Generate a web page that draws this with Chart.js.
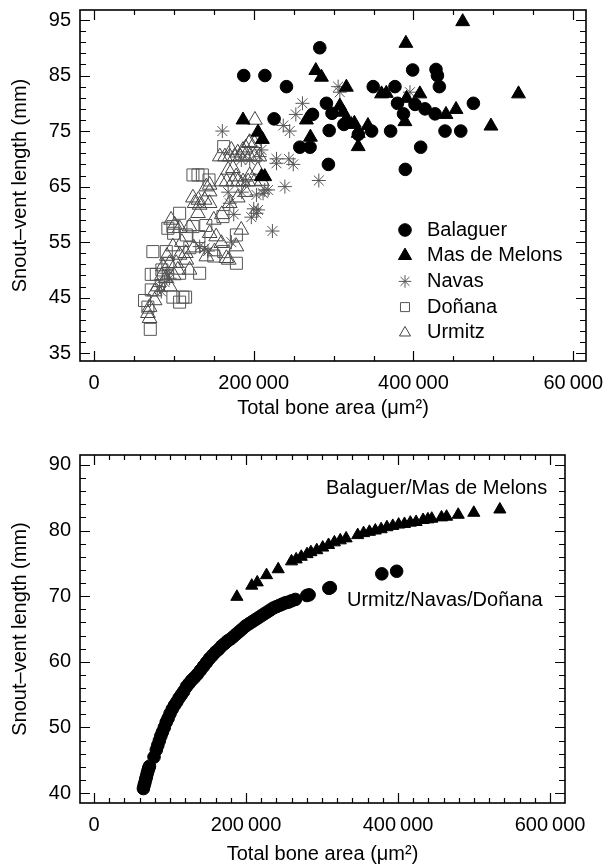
<!DOCTYPE html>
<html>
<head>
<meta charset="utf-8">
<script src="https://cdn.jsdelivr.net/npm/chart.js@4.4.0/dist/chart.umd.min.js"></script>
<style>
  body { margin: 0; background: #fff; }
  .panel { position: relative; width: 608px; }
  canvas { display: block; }
</style>
</head>
<body>
<div class="panel" style="height:420px"><canvas id="topChart" width="608" height="420"></canvas></div>
<div class="panel" style="height:446px"><canvas id="bottomChart" width="608" height="446"></canvas></div>
<script>
// ---- data: [total bone area (um2), snout-vent length (mm)] ----
const balaguer = [
  [187500,85],[214000,85],[241000,83],[225500,77.2],[282700,90],[291000,80],[273600,78],[298000,78.2],
  [294500,75.1],[257700,72.1],[270500,72.1],[293500,69],[312900,76.2],[331000,74.4],[347600,75],[349600,83],
  [376800,83],[371400,75],[399000,86],[428200,86.1],[430000,85],[432400,83],[380000,80],[387500,78.1],
  [401900,79.8],[414400,79],[427000,78.1],[475000,80],[439500,75],[459200,75],[409000,72.1],[389800,68.1]
];
const masDeMelons = [
  [461600,94.7],[390500,90.8],[277700,85.9],[284800,84.7],[316000,82.9],[531500,81.7],[360000,81.7],[366000,81.8],
  [408000,81.7],[391400,80.9],[440700,78],[453300,78.9],[497000,75.9],[389300,76.7],[307800,79.5],[312000,78.4],
  [316000,77.2],[322000,76.2],[326000,76.4],[330800,74.6],[330800,72.2],[343000,76],[186600,77],[205400,74.8],
  [210900,73.5],[266000,77],[271000,73.9],[209600,66.8],[213800,66.8]
];
const navas = [
  [160700,75],[261000,80],[252700,78],[237000,76],[245000,75],[305700,83],[307800,82],[395600,82],
  [228500,70],[228500,69.2],[244000,70],[249500,69],[239000,65],[281500,66.1],[209600,71.6],[207500,70.4],
  [203400,60.2],[205400,60.8],[223400,57],[172000,55],[218000,64.4],[211700,63.8],[203400,63.5],[213800,64.4],
  [170000,62],[175000,60],[168000,64],[132300,54.2],[138600,53.9],[142700,53.4],[90500,49.4],[94700,48.5],
  [88400,47.8],[82100,47],[84300,46.1],[184500,69.8],[195000,69.8],[185000,64],[190000,66],[200000,61],[197000,59.5]
];
const donana = [
  [162400,72.2],[123900,67.1],[130200,67.1],[135700,67.1],[144000,66.2],[107200,60.2],[92500,57.5],[99700,56.6],
  [131400,56],[161500,59.6],[178300,56.3],[73700,53.3],[90500,53.3],[162400,53.3],[178300,51.2],[71700,49.2],
  [78000,49.2],[107200,49.4],[132300,49.4],[98800,45.1],[111300,45.1],[114700,45.1],[107200,44.2],[63300,44.5],
  [67500,43.3],[70500,39.3],[71700,46.4],[98800,57.8],[123900,57.8],[115600,56.3],[92500,51.2],[120000,54],
  [150000,52.5],[85000,50],[140000,58]
];
const urmitz = [
  [201500,77],[195000,73],[201000,72.8],[194000,72.8],[190000,72],[157600,70.4],[164000,70.4],[170000,70.4],
  [176000,70.4],[183000,70.4],[189000,70.4],[195000,70.4],[201000,70.4],[207000,70.4],[172000,71.6],[180000,71.1],
  [186600,71.6],[168000,68],[174000,68.3],[178000,66.8],[159500,65.9],[166000,65.9],[174000,65.9],[180000,65.9],
  [186600,65.9],[193000,65.9],[201000,65.9],[144800,65.3],[144800,64.1],[140700,65],[123900,63],[126000,62],
  [132300,61.7],[138600,62.6],[144800,62],[130200,60.2],[101000,58.1],[107200,57.5],[119700,57.8],[144800,56.6],
  [153000,56],[159500,54.8],[151000,53.3],[140700,52.4],[165800,52.1],[178300,54.2],[98800,54.2],[91300,52.5],
  [94700,51.2],[86300,50.6],[107200,52.7],[103000,51.2],[115600,51.8],[119700,50],[75900,46.1],[80000,47],
  [69600,43.3],[67500,42.2],[69600,41.3],[75900,44.5],[168700,51.8],[184400,57.2],[96500,59],[130700,62.6],
  [110000,55],[125000,54],[90000,48.5],[100000,49],[85000,49],[160000,60],[170000,62],[180000,63],
  [190000,64],[195000,67],[205000,68],[150000,59],[115000,53],[105000,50],[95000,47],[210000,66]
];

// predicted values (lower panel)
const predBalaguerMas = [
  [188000,69.9],[207600,71.6],[214800,72.1],[227000,73.2],[242400,74.1],[259900,75.3],[266000,75.6],[272700,76],
  [280300,76.4],[285400,76.7],[293100,77],[300900,77.4],[308600,77.8],[316300,78.2],[324000,78.5],[331700,78.8],
  [347000,79.3],[354700,79.6],[362400,79.8],[370100,80],[377800,80.2],[385400,80.5],[393100,80.7],[400800,80.9],
  [408500,81],[416200,81.2],[423800,81.3],[433000,81.6],[439300,81.7],[444400,81.8],[457200,82],[463900,82.1],
  [479200,82.4],[499700,82.7],[534000,83.2]
];
const predUrmitzNavasDonana = [
  [65000,40.7],[66000,41.2],[67000,41.6],[68000,42.1],[69000,42.5],[70000,43],[71000,43.4],[72000,43.8],
  [73000,44.1],[79000,45.5],[82000,46.6],[84000,47.3],[86000,48],[88000,48.7],[90000,49.3],[92500,50],
  [95000,50.8],[97500,51.4],[100000,52.1],[103000,52.8],[106000,53.4],[109000,53.9],[112000,54.5],[115000,55],
  [118000,55.5],[121500,56.2],[125000,56.7],[128500,57.2],[132000,57.6],[136000,58.1],[140000,58.7],[144000,59.3],
  [148000,59.9],[152000,60.5],[156000,61],[160000,61.5],[164000,61.9],[168000,62.4],[172000,62.8],[176000,63.2],
  [180000,63.5],[184000,63.9],[188000,64.3],[192000,64.7],[196000,65.1],[200000,65.5],[204000,65.8],[208000,66.1],
  [212000,66.4],[216000,66.7],[220000,67],[224000,67.3],[228000,67.6],[232000,67.9],[236000,68.2],[240000,68.4],
  [244000,68.6],[248000,68.8],[252000,69],[256000,69.1],[260000,69.3],[265000,69.5],[280000,70.1],[283000,70.2],
  [309000,71.2],[311000,71.3],[378700,73.4],[398200,73.8]
];

// ---- axes ----
const topXTicks = [0, 200000, 400000, 600000];
const topXLabels = ['0', '200\u2009000', '400\u2009000', '60\u2009000'];
const topYTicks = [35, 45, 55, 65, 75, 85, 95];
const bottomXTicks = [0, 200000, 400000, 600000];
const bottomXLabels = ['0', '200\u2009000', '400\u2009000', '600\u2009000'];
const bottomYTicks = [40, 50, 60, 70, 80, 90];

const FONT = "'Liberation Sans', Arial, sans-serif";
const FS = 20;

const toXY = arr => arr.map(([x, y]) => ({ x, y }));

// box frame with inward ticks, drawn from the scales
const frameTicks = {
  id: 'frameTicks',
  afterDatasetsDraw(chart, args, o) {
    const { ctx, chartArea: a } = chart;
    const x = chart.scales.x, y = chart.scales.y;
    ctx.save();
    ctx.strokeStyle = '#000';
    ctx.lineWidth = 1.2;
    ctx.beginPath();
    for (let v = o.xFrom; v <= o.xTo + 1; v += o.xStep) {
      const px = Math.round(x.getPixelForValue(v)) + 0.5;
      const len = o.xMajor.includes(v) ? 10 : 5;
      ctx.moveTo(px, a.bottom); ctx.lineTo(px, a.bottom - len);
      ctx.moveTo(px, a.top); ctx.lineTo(px, a.top + len);
    }
    for (let v = o.yFrom; v <= o.yTo + 0.01; v += o.yStep) {
      const py = Math.round(y.getPixelForValue(v)) + 0.5;
      const len = o.yMajor.includes(v) ? 10 : 6;
      ctx.moveTo(a.left, py); ctx.lineTo(a.left + len, py);
      ctx.moveTo(a.right, py); ctx.lineTo(a.right - len, py);
    }
    ctx.stroke();
    ctx.lineWidth = 1.6;
    ctx.strokeRect(a.left, a.top, a.right - a.left, a.bottom - a.top);
    ctx.restore();
  }
};

// in-plot legend / labels
const notes = {
  id: 'notes',
  afterDraw(chart, args, o) {
    const { ctx } = chart;
    ctx.save();
    ctx.font = FS + 'px ' + FONT;
    ctx.textBaseline = 'middle';
    ctx.fillStyle = '#000';
    (o.legend || []).forEach((item, i) => {
      const ds = chart.data.datasets[i];
      const yy = o.legendY + i * o.legendGap;
      ctx.fillStyle = ds.backgroundColor;
      ctx.strokeStyle = ds.borderColor;
      ctx.lineWidth = ds.borderWidth;
      Chart.helpers.drawPoint(ctx, {
        pointStyle: ds.pointStyle, rotation: 0,
        radius: ds.pointRadius * item, borderWidth: ds.borderWidth
      }, o.legendX, yy);
      ctx.fillStyle = '#000';
      ctx.fillText(ds.label, o.legendX + 22, yy);
    });
    (o.texts || []).forEach(t => ctx.fillText(t.text, t.x, t.y));
    ctx.restore();
  }
};

function xAxis(min, max, ticks, labels, height) {
  return {
    type: 'linear', min, max,
    afterBuildTicks: s => { s.ticks = ticks.map(v => ({ value: v })); },
    afterFit: s => { s.height = height; s.paddingLeft = 0; s.paddingRight = 0; },
    grid: { display: false, drawTicks: false },
    border: { display: false },
    ticks: {
      color: '#000', font: { family: FONT, size: FS }, padding: 10, maxRotation: 0,
      callback: (v) => labels[ticks.indexOf(v)]
    },
    title: {
      display: true, text: 'Total bone area (\u03bcm\u00b2)', color: '#000',
      font: { family: FONT, size: FS }, padding: { top: 0, bottom: 0 }
    }
  };
}

function yAxis(min, max, ticks) {
  return {
    type: 'linear', min, max,
    afterBuildTicks: s => { s.ticks = ticks.map(v => ({ value: v })); },
    afterFit: s => { s.width = 80; s.paddingTop = 0; s.paddingBottom = 0; },
    grid: { display: false, drawTicks: false },
    border: { display: false },
    ticks: { color: '#000', font: { family: FONT, size: FS }, padding: 9 },
    title: {
      display: true, text: 'Snout\u2013vent length (mm)', color: '#000',
      font: { family: FONT, size: FS }, padding: { top: 8, bottom: 0 }
    }
  };
}

const baseOptions = {
  responsive: false,
  animation: false,
  events: [],
  plugins: { legend: { display: false }, tooltip: { enabled: false } }
};

new Chart(document.getElementById('topChart'), {
  type: 'scatter',
  data: {
    datasets: [
      { label: 'Balaguer', data: toXY(balaguer), pointStyle: 'circle', pointRadius: 6.3,
        backgroundColor: '#000', borderColor: '#000', borderWidth: 1 },
      { label: 'Mas de Melons', data: toXY(masDeMelons), pointStyle: 'triangle', pointRadius: 8,
        backgroundColor: '#000', borderColor: '#000', borderWidth: 1 },
      { label: 'Navas', data: toXY(navas), pointStyle: 'star', pointRadius: 7,
        backgroundColor: 'rgba(0,0,0,0)', borderColor: '#555', borderWidth: 1 },
      { label: 'Do\u00f1ana', data: toXY(donana), pointStyle: 'rect', pointRadius: 8.5,
        backgroundColor: 'rgba(0,0,0,0)', borderColor: '#555', borderWidth: 1 },
      { label: 'Urmitz', data: toXY(urmitz), pointStyle: 'triangle', pointRadius: 8.5,
        backgroundColor: 'rgba(0,0,0,0)', borderColor: '#444', borderWidth: 1 }
    ]
  },
  options: {
    ...baseOptions,
    layout: { padding: { top: 10, right: 22, left: 0, bottom: 0 } },
    scales: {
      x: xAxis(-17500, 616000, topXTicks, topXLabels, 59),
      y: yAxis(33.6, 96.8, topYTicks)
    },
    plugins: {
      ...baseOptions.plugins,
      frameTicks: { xFrom: 0, xTo: 600000, xStep: 50000, xMajor: topXTicks,
                    yFrom: 35, yTo: 95, yStep: 2, yMajor: topYTicks },
      notes: { legend: [1, 0.95, 0.9, 0.75, 0.75], legendX: 405, legendY: 230, legendGap: 25.7 }
    }
  },
  plugins: [frameTicks, notes]
});

new Chart(document.getElementById('bottomChart'), {
  type: 'scatter',
  data: {
    datasets: [
      { label: 'Balaguer/Mas de Melons', data: toXY(predBalaguerMas), pointStyle: 'triangle', pointRadius: 7,
        backgroundColor: '#000', borderColor: '#000', borderWidth: 1 },
      { label: 'Urmitz/Navas/Do\u00f1ana', data: toXY(predUrmitzNavasDonana), pointStyle: 'circle', pointRadius: 6.3,
        backgroundColor: '#000', borderColor: '#000', borderWidth: 1 }
    ]
  },
  options: {
    ...baseOptions,
    layout: { padding: { top: 35, right: 43, left: 0, bottom: 0 } },
    scales: {
      x: xAxis(-18400, 619700, bottomXTicks, bottomXLabels, 63),
      y: yAxis(38.5, 91.5, bottomYTicks)
    },
    plugins: {
      ...baseOptions.plugins,
      frameTicks: { xFrom: 0, xTo: 600000, xStep: 20000, xMajor: bottomXTicks,
                    yFrom: 40, yTo: 90, yStep: 2, yMajor: bottomYTicks },
      notes: { texts: [
        { text: 'Balaguer/Mas de Melons', x: 326, y: 68 },
        { text: 'Urmitz/Navas/Do\u00f1ana', x: 347, y: 180 }
      ] }
    }
  },
  plugins: [frameTicks, notes]
});
</script>
</body>
</html>
